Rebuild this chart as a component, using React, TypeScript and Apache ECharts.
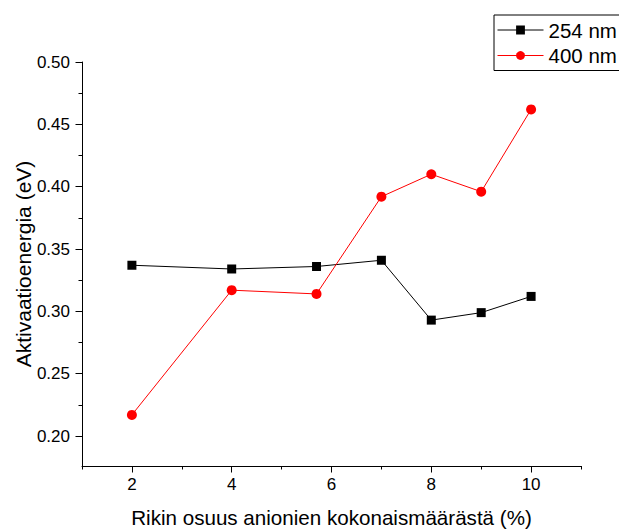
import { useEffect, useRef } from "react";
import * as echarts from "echarts";

// Sulfur share of all anions (%)
const sulfurShare = [2, 4, 5.7, 7, 8, 9, 10];
// Activation energy (eV) under 254 nm and 400 nm illumination
const energy254 = [0.337, 0.334, 0.336, 0.341, 0.293, 0.299, 0.312];
const energy400 = [0.217, 0.317, 0.314, 0.392, 0.41, 0.396, 0.462];

const seriesNames = ["254 nm", "400 nm"];

const xMajorTicks = [2, 4, 6, 8, 10];
const xMinorTicks = [1, 3, 5, 7, 9, 11];
const yMajorTicks = [0.2, 0.25, 0.3, 0.35, 0.4, 0.45, 0.5];
const yMinorTicks = [0.225, 0.275, 0.325, 0.375, 0.425, 0.475];

const FONT = "'Liberation Sans', Arial, sans-serif";
const X_MIN = 1;
const X_MAX = 11;
const Y_MIN = 0.176;
const Y_MAX = 0.5;

export default function App() {
  const ref = useRef<HTMLDivElement>(null);

  useEffect(() => {
    if (!ref.current) return;
    const chart = echarts.init(ref.current, undefined, { renderer: "svg" });

    const gridRect = {
      left: 82,
      right: 38,
      top: 62,
      bottom: 64,
      containLabel: false,
      outerBoundsMode: "none",
    };
    const axisLineStyle = { color: "#000", width: 1 };

    chart.setOption({
      animation: false,
      backgroundColor: "#fff",
      textStyle: { fontFamily: FONT },
      grid: [{ ...gridRect }, { ...gridRect }],
      legend: {
        data: seriesNames,
        orient: "vertical",
        left: 494,
        top: 15,
        padding: [4.5, 30, 4.5, 3],
        itemWidth: 46,
        itemHeight: 11,
        itemGap: 4.5,
        borderColor: "#000",
        borderWidth: 1,
        borderRadius: 0,
        lineStyle: { width: 1 },
        textStyle: { fontSize: 20.5, color: "#000", fontFamily: FONT },
      },
      xAxis: [
        {
          gridIndex: 0,
          type: "value",
          min: X_MIN,
          max: X_MAX,
          axisLine: { show: true, onZero: false, lineStyle: axisLineStyle },
          axisTick: {
            show: true,
            inside: false,
            length: 6.5,
            customValues: xMajorTicks,
            lineStyle: axisLineStyle,
          },
          axisLabel: {
            show: true,
            customValues: xMajorTicks,
            margin: 10,
            fontSize: 17,
            color: "#000",
            fontFamily: FONT,
          },
          splitLine: { show: false },
          name: "Rikin osuus anionien kokonaismäärästä (%)",
          nameLocation: "middle",
          nameGap: 41,
          nameMoveOverlap: false,
          nameTextStyle: { fontSize: 20.6, color: "#000", fontFamily: FONT },
        },
        {
          gridIndex: 1,
          type: "value",
          min: X_MIN,
          max: X_MAX,
          axisLine: { show: false },
          axisTick: {
            show: true,
            length: 3.5,
            customValues: xMinorTicks,
            lineStyle: axisLineStyle,
          },
          axisLabel: { show: false },
          splitLine: { show: false },
        },
      ],
      yAxis: [
        {
          gridIndex: 0,
          type: "value",
          min: Y_MIN,
          max: Y_MAX,
          axisLine: { show: true, onZero: false, lineStyle: axisLineStyle },
          axisTick: {
            show: true,
            inside: false,
            length: 6.5,
            customValues: yMajorTicks,
            lineStyle: axisLineStyle,
          },
          axisLabel: {
            show: true,
            customValues: yMajorTicks,
            margin: 12,
            fontSize: 17,
            color: "#000",
            fontFamily: FONT,
            formatter: (v: number) => v.toFixed(2),
          },
          splitLine: { show: false },
          name: "Aktivaatioenergia (eV)",
          nameLocation: "middle",
          nameGap: 48,
          nameMoveOverlap: false,
          nameTextStyle: { fontSize: 21, color: "#000", fontFamily: FONT },
        },
        {
          gridIndex: 1,
          type: "value",
          min: Y_MIN,
          max: Y_MAX,
          axisLine: { show: false },
          axisTick: {
            show: true,
            length: 3.5,
            customValues: yMinorTicks,
            lineStyle: axisLineStyle,
          },
          axisLabel: { show: false },
          splitLine: { show: false },
        },
      ],
      series: [
        {
          name: seriesNames[0],
          type: "line",
          xAxisIndex: 0,
          yAxisIndex: 0,
          data: sulfurShare.map((x, i) => [x, energy254[i]]),
          symbol: "rect",
          symbolSize: 9,
          itemStyle: { color: "#000" },
          lineStyle: { color: "#000", width: 1 },
          z: 3,
        },
        {
          name: seriesNames[1],
          type: "line",
          xAxisIndex: 0,
          yAxisIndex: 0,
          data: sulfurShare.map((x, i) => [x, energy400[i]]),
          symbol: "circle",
          symbolSize: 10,
          itemStyle: { color: "#ff0000" },
          lineStyle: { color: "#ff0000", width: 1 },
          z: 4,
        },
      ],
    });

    return () => chart.dispose();
  }, []);

  return (
    <div
      ref={ref}
      style={{ position: "fixed", left: 0, top: 0, width: 619, height: 530 }}
    />
  );
}
